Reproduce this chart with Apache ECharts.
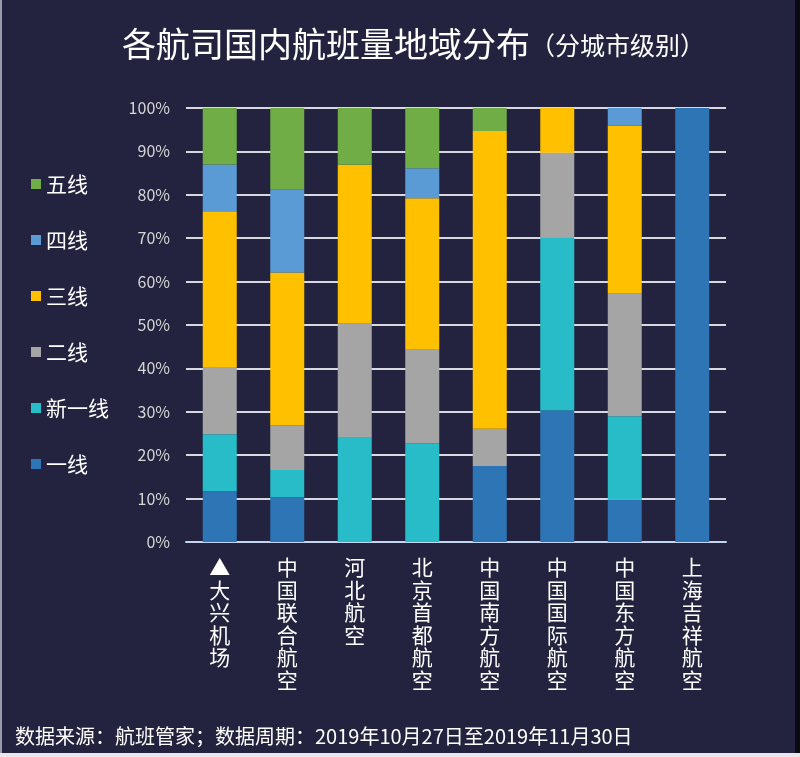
<!DOCTYPE html>
<html>
<head>
<meta charset="utf-8">
<script src="https://cdn.jsdelivr.net/npm/echarts@6/dist/echarts.min.js"></script>
<style>
html, body { margin: 0; padding: 0; background: #23233f; }
#chart { width: 800px; height: 757px; }
</style>
</head>
<body>
<div id="chart"></div>
<script>
var airlines = ['▲大兴机场', '中国联合航空', '河北航空', '北京首都航空', '中国南方航空', '中国国际航空', '中国东方航空', '上海吉祥航空'];
var tierNames = ['一线', '新一线', '二线', '三线', '四线', '五线'];
var tier1 = [11.7, 10.3, 0, 0, 17.5, 30.3, 9.8, 100];
var tierNew1 = [13.1, 6.3, 24.2, 22.7, 0, 39.9, 19.2, 0];
var tier2 = [15.5, 10.3, 26.1, 21.6, 8.6, 19.5, 28.2, 0];
var tier3 = [35.9, 35.2, 36.6, 34.9, 68.6, 10.3, 38.7, 0];
var tier4 = [10.8, 19.2, 0, 6.9, 0, 0, 4.1, 0];
var tier5 = [13.0, 18.7, 13.1, 13.9, 5.3, 0, 0, 0];
var tierColors = ['#2e75b6', '#27bcc8', '#a5a5a5', '#ffc000', '#5b9bd5', '#70ad47'];
var yTicks = [0, 10, 20, 30, 40, 50, 60, 70, 80, 90, 100];

var chart = echarts.init(document.getElementById('chart'), null, {renderer: 'canvas'});
var values = [tier1, tierNew1, tier2, tier3, tier4, tier5];

var series = tierNames.map(function (name, i) {
    return {
        name: name,
        type: 'bar',
        stack: 'total',
        barWidth: 34,
        itemStyle: {color: tierColors[i]},
        data: values[i]
    };
});

var option = {
    backgroundColor: '#23233f',
    animation: false,
    title: {
        text: '{a|各航司国内航班量地域分布}{b|（分城市级别）}',
        left: 117,
        top: 22,
        textStyle: {
            rich: {
                a: {fontSize: 34, color: '#ffffff', fontWeight: 'normal', fontFamily: 'Noto Sans CJK SC'},
                b: {fontSize: 25, color: '#ffffff', fontWeight: 'normal', fontFamily: 'Noto Sans CJK SC', padding: [4, 0, 0, 0]}
            }
        }
    },
    legend: {
        orient: 'vertical',
        left: 26,
        top: 168,
        data: ['五线', '四线', '三线', '二线', '新一线', '一线'],
        icon: 'rect',
        itemWidth: 10,
        itemHeight: 10,
        itemGap: 34,
        textStyle: {color: '#ffffff', fontSize: 21, lineHeight: 22, fontFamily: 'Noto Sans CJK SC'}
    },
    grid: {left: 186, right: 74, top: 108, bottom: 215},
    xAxis: {
        type: 'category',
        data: airlines,
        axisLine: {lineStyle: {color: '#c5d4ef', width: 2}},
        axisTick: {show: false},
        axisLabel: {
            color: '#ffffff',
            fontSize: 21,
            lineHeight: 22.5,
            margin: 14,
            verticalAlign: 'top',
            fontFamily: 'Noto Sans CJK SC',
            formatter: function (v) { return v.split('').join('\n'); }
        }
    },
    yAxis: {
        type: 'value',
        min: yTicks[0],
        max: yTicks[yTicks.length - 1],
        interval: 10,
        axisLine: {show: false},
        axisTick: {show: false},
        splitLine: {lineStyle: {color: '#d8d8e0', width: 2}},
        axisLabel: {
            color: '#d6d6d6',
            fontSize: 16,
            margin: 16,
            fontFamily: 'Noto Sans CJK SC',
            formatter: '{value}%'
        }
    },
    graphic: [
        {type: 'rect', left: 0, top: 0, shape: {width: 2, height: 757}, style: {fill: '#9a9aa8'}},
        {type: 'rect', right: 0, top: 0, shape: {width: 5, height: 757}, style: {fill: '#0a0a12'}},
        {type: 'rect', left: 0, bottom: 0, shape: {width: 800, height: 4}, style: {fill: '#e8e8ec'}},
        {
            type: 'text',
            left: 15,
            top: 726,
            style: {
                text: '数据来源：航班管家；数据周期：2019年10月27日至2019年11月30日',
                fill: '#ffffff',
                fontSize: 20,
                fontFamily: 'Noto Sans CJK SC'
            }
        }
    ],
    series: series
};
chart.setOption(option);
</script>
</body>
</html>
